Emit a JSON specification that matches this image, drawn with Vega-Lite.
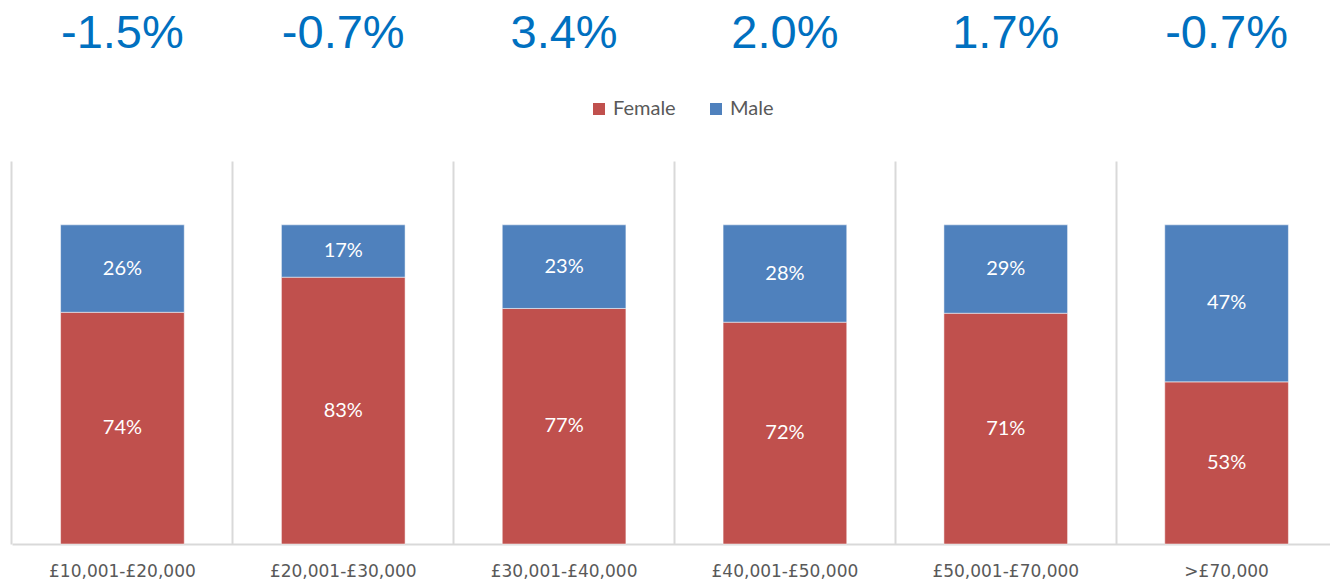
{
  "$schema": "https://vega.github.io/schema/vega-lite/v6.json",
  "width": 1318,
  "height": 383,
  "autosize": {"type": "none"},
  "padding": {"left": 12, "top": 161, "right": 0, "bottom": 40},
  "background": "white",
  "config": {"view": {"stroke": null}},
  "datasets": {
    "shares": [
      {"band": "£10,001-£20,000", "gender": "Female", "share": 0.726, "label": "74%"},
      {"band": "£10,001-£20,000", "gender": "Male", "share": 0.274, "label": "26%"},
      {"band": "£20,001-£30,000", "gender": "Female", "share": 0.836, "label": "83%"},
      {"band": "£20,001-£30,000", "gender": "Male", "share": 0.164, "label": "17%"},
      {"band": "£30,001-£40,000", "gender": "Female", "share": 0.738, "label": "77%"},
      {"band": "£30,001-£40,000", "gender": "Male", "share": 0.262, "label": "23%"},
      {"band": "£40,001-£50,000", "gender": "Female", "share": 0.695, "label": "72%"},
      {"band": "£40,001-£50,000", "gender": "Male", "share": 0.305, "label": "28%"},
      {"band": "£50,001-£70,000", "gender": "Female", "share": 0.723, "label": "71%"},
      {"band": "£50,001-£70,000", "gender": "Male", "share": 0.277, "label": "29%"},
      {"band": ">£70,000", "gender": "Female", "share": 0.508, "label": "53%"},
      {"band": ">£70,000", "gender": "Male", "share": 0.492, "label": "47%"}
    ],
    "changes": [
      {"band": "£10,001-£20,000", "change": "-1.5%"},
      {"band": "£20,001-£30,000", "change": "-0.7%"},
      {"band": "£30,001-£40,000", "change": "3.4%"},
      {"band": "£40,001-£50,000", "change": "2.0%"},
      {"band": "£50,001-£70,000", "change": "1.7%"},
      {"band": ">£70,000", "change": "-0.7%"}
    ]
  },
  "layer": [
    {
      "data": {"name": "shares"},
      "mark": {"type": "bar", "stroke": "white", "strokeWidth": 0.5},
      "encoding": {
        "x": {
          "field": "band", "type": "nominal", "sort": null,
          "scale": {"range": [0, 1325], "paddingInner": 0.44, "paddingOuter": 0.22},
          "axis": {
            "title": null, "labelAngle": 0, "bandPosition": -0.393,
            "grid": true, "gridColor": "#d9d9d9", "gridWidth": 2,
            "ticks": false, "tickSize": 0,
            "domainColor": "#d9d9d9", "domainWidth": 2,
            "labelFont": "DejaVu Sans", "labelFontSize": 17, "labelColor": "#595959",
            "labelPadding": 19, "labelBaseline": "top"
          }
        },
        "y": {
          "field": "share", "type": "quantitative", "stack": "zero",
          "scale": {"domain": [0, 1.2], "nice": false},
          "axis": null
        },
        "order": {"field": "gender", "sort": "ascending"},
        "color": {
          "field": "gender", "type": "nominal",
          "scale": {"domain": ["Female", "Male"], "range": ["#c0504d", "#4f81bd"]},
          "legend": {
            "title": null, "orient": "none", "direction": "horizontal",
            "legendX": 577, "legendY": -62,
            "symbolType": "square", "symbolSize": 144, "symbolStrokeWidth": 0,
            "labelFont": "Lato", "labelFontSize": 20, "labelColor": "#595959",
            "columnPadding": 30, "labelOffset": 4
          }
        }
      }
    },
    {
      "data": {"name": "shares"},
      "transform": [
        {"stack": "share", "groupby": ["band"], "sort": [{"field": "gender", "order": "ascending"}], "as": ["s0", "s1"]},
        {"calculate": "(datum.s0 + datum.s1) / 2", "as": "mid"}
      ],
      "mark": {"type": "text", "font": "Lato", "fontSize": 20, "color": "white", "baseline": "middle", "align": "center"},
      "encoding": {
        "x": {"field": "band", "type": "nominal", "sort": null},
        "y": {"field": "mid", "type": "quantitative"},
        "text": {"field": "label"}
      }
    },
    {
      "data": {"name": "changes"},
      "mark": {"type": "text", "font": "Liberation Sans", "fontSize": 47, "color": "#0070c0", "baseline": "alphabetic", "align": "center"},
      "encoding": {
        "x": {"field": "band", "type": "nominal", "sort": null},
        "y": {"datum": 1.554, "type": "quantitative"},
        "text": {"field": "change"}
      }
    }
  ]
}
